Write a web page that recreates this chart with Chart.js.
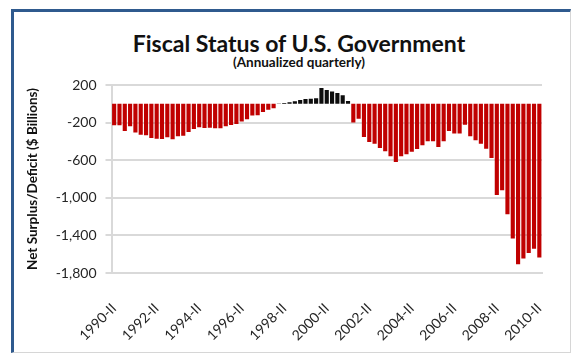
<!DOCTYPE html>
<html>
<head>
<meta charset="utf-8">
<script src="https://cdn.jsdelivr.net/npm/chart.js@4.4.1/dist/chart.umd.min.js"></script>
<style>
  html, body { margin: 0; padding: 0; background: #fff; }
  body { width: 580px; height: 356px; position: relative; overflow: hidden; font-family: Lato, "Open Sans", sans-serif; }
  .frame {
    position: absolute; left: 11px; top: 9px; width: 560px; height: 344px; box-sizing: border-box;
    border-left: 3px solid #2f5a8e; border-top: 3px solid #2f5a8e;
    border-right: 1px solid #d6d6d6; border-bottom: 1px solid #d6d6d6;
  }
  .title { position: absolute; left: 99px; width: 400px; text-align: center; color: #111; }
  .title.main { top: 29px; font-size: 23px; line-height: 28px; font-weight: bold; }
  .title.sub { top: 54px; font-size: 13.5px; line-height: 16px; font-weight: bold; }
  #wrap { position: absolute; left: 0; top: 0; width: 580px; height: 356px; }
</style>
</head>
<body>
<div class="frame"></div>
<div class="title main">Fiscal Status of U.S. Government</div>
<div class="title sub">(Annualized quarterly)</div>
<div id="wrap"><canvas id="fiscalChart"></canvas></div>
<script>
// quarters 1990-II .. 2010-II
const quarters = [
    '1990-II', '1990-III', '1990-IV',
    '1991-I', '1991-II', '1991-III', '1991-IV',
    '1992-I', '1992-II', '1992-III', '1992-IV',
    '1993-I', '1993-II', '1993-III', '1993-IV',
    '1994-I', '1994-II', '1994-III', '1994-IV',
    '1995-I', '1995-II', '1995-III', '1995-IV',
    '1996-I', '1996-II', '1996-III', '1996-IV',
    '1997-I', '1997-II', '1997-III', '1997-IV',
    '1998-I', '1998-II', '1998-III', '1998-IV',
    '1999-I', '1999-II', '1999-III', '1999-IV',
    '2000-I', '2000-II', '2000-III', '2000-IV',
    '2001-I', '2001-II', '2001-III', '2001-IV',
    '2002-I', '2002-II', '2002-III', '2002-IV',
    '2003-I', '2003-II', '2003-III', '2003-IV',
    '2004-I', '2004-II', '2004-III', '2004-IV',
    '2005-I', '2005-II', '2005-III', '2005-IV',
    '2006-I', '2006-II', '2006-III', '2006-IV',
    '2007-I', '2007-II', '2007-III', '2007-IV',
    '2008-I', '2008-II', '2008-III', '2008-IV',
    '2009-I', '2009-II', '2009-III', '2009-IV',
    '2010-I', '2010-II'
];

// net surplus (+) / deficit (-), $ billions, annualized
const netBalance = [
    -229, -229, -289,
    -240, -305, -330, -335,
    -364, -371, -375, -355,
    -378, -346, -340, -300,
    -268, -250, -257, -255,
    -260, -260, -238, -225,
    -215, -188, -165, -125,
    -122, -88, -62, -48,
    4, 8, 16, 28,
    40, 50, 55, 58,
    168, 146, 132, 115,
    90, 30, -200, -160,
    -353, -406, -424, -470,
    -505, -559, -619, -559,
    -537, -510, -480, -440,
    -399, -399, -460, -399,
    -289, -317, -317, -222,
    -346, -388, -424, -477,
    -577, -970, -920, -1176,
    -1434, -1708, -1647, -1587,
    -1541, -1636
];

// labelled every second year
const tickLabels = [
    '1990-II', '1992-II', '1994-II', '1996-II', '1998-II', '2000-II',
    '2002-II', '2004-II', '2006-II', '2008-II', '2010-II'
];

const yMin = -1800;
const yMax = 200;
const yStep = 400;

const gridColor = '#d9d9d9';
const textColor = '#262626';

const ctx = document.getElementById('fiscalChart');
new Chart(ctx, {
    type: 'bar',
    data: {
        labels: quarters,
        datasets: [{
            label: 'Net Surplus/Deficit',
            data: netBalance,
            backgroundColor: netBalance.map((v) => (v >= 0 ? '#0d0d0d' : '#c00000')),
            borderWidth: 0,
            barPercentage: 1,
            categoryPercentage: 0.78
        }]
    },
    options: {
        responsive: true,
        maintainAspectRatio: false,
        animation: false,
        layout: {
            padding: { left: 0, right: 38, top: 85, bottom: 0 }
        },
        plugins: {
            legend: { display: false },
            tooltip: { enabled: false }
        },
        scales: {
            x: {
                grid: { display: false },
                border: { color: gridColor, width: 2 },
                ticks: {
                    autoSkip: false,
                    minRotation: 45,
                    maxRotation: 45,
                    padding: 19,
                    color: textColor,
                    font: { family: 'Lato', size: 14 },
                    callback: function (value) {
                        const label = this.getLabelForValue(value);
                        return tickLabels.includes(label) ? label : '';
                    }
                },
                afterFit: (scale) => { scale.height = 83; }
            },
            y: {
                min: yMin,
                max: yMax,
                grid: { color: gridColor, lineWidth: 2, tickLength: 6 },
                border: { color: gridColor, width: 2 },
                ticks: {
                    stepSize: yStep,
                    padding: 9,
                    color: textColor,
                    font: { family: 'Lato', size: 14 },
                    callback: (value) => value.toLocaleString('en-US')
                },
                title: {
                    display: true,
                    text: 'Net Surplus/Deficit ($ Billions)',
                    color: '#111',
                    font: { family: 'Lato', size: 13.5, weight: 'bold' },
                    padding: { top: 25, bottom: 0 }
                },
                afterFit: (scale) => { scale.width = 111.5; }
            }
        }
    }
});
</script>
</body>
</html>
